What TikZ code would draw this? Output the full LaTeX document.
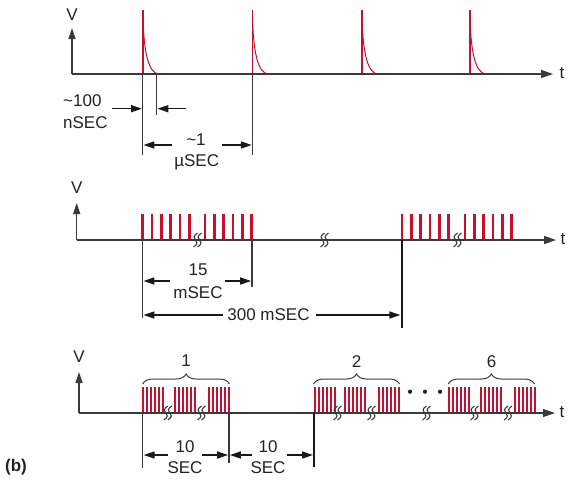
\documentclass[tikz,border=0pt]{standalone}
\usepackage{fontspec}
\setmainfont{Liberation Sans}
\usetikzlibrary{arrows.meta,decorations.pathreplacing}
\definecolor{pulse}{HTML}{C8102E}
\definecolor{ln}{HTML}{3A3A3A}
\definecolor{txt}{HTML}{222222}
\begin{document}
\begin{tikzpicture}[x=1pt,y=-1pt,
  axis/.style={draw=ln, line width=1.3pt, -{Triangle[length=12pt,width=8pt]}},
  vaxis/.style={draw=ln, line width=1.3pt, -{Triangle[length=11pt,width=7pt]}},
  dim/.style={draw=black!90, line width=1.5pt, -{Triangle[length=11pt,width=7pt]}},
  ext/.style={draw=ln, line width=1.1pt},
  bar/.style={draw=black!90, line width=2pt},
  lbl/.style={font=\fontsize{17}{19}\selectfont, text=txt, inner sep=0pt},
  grp/.style={draw=ln, line width=1pt, decorate, decoration={brace, amplitude=10pt}},
  brk/.pic={\foreach \d in {0,4}{\draw[ln, line width=1.1pt] (\d+2,-7) .. controls (\d-2.4,-4.5) and (\d-2.2,-1.2) .. (\d,0) .. controls (\d+2.2,1.2) and (\d+2.4,4.5) .. (\d-2,7);}}
]
\useasboundingbox (0,0) rectangle (567,480);

% ---------------- panel 1 ----------------
\coordinate (o1) at (72,74);
\coordinate (e1) at (553,74);
\coordinate (v1) at (72,28);
\foreach \x in {143,252.5,362,470}{
  \fill[pulse] (\x-0.7,74) rectangle (\x+0.7,10);
  \draw[pulse, line width=1pt] (\x,18) .. controls (\x+1,55) and (\x+6,72) .. (\x+15,74);
}
\draw[axis] (o1) -- (e1);
\draw[vaxis] (o1) -- (v1);
\node[lbl] (V1) at (72,15) {V};
\node[lbl] (t1) at (562,73) {t};

\coordinate (a1) at (142.7,74);  \coordinate (a1b) at (142.7,155);
\coordinate (a2) at (156.7,74);  \coordinate (a2b) at (156.7,115);
\coordinate (a3) at (252.5,74);  \coordinate (a3b) at (252.5,155);
\draw[ext] (a1) -- (a1b);
\draw[ext] (a2) -- (a2b);
\draw[ext] (a3) -- (a3b);
\coordinate (d1s) at (111.7,108.7); \coordinate (d1e) at (142,108.7);
\coordinate (d2s) at (186,108.7);   \coordinate (d2e) at (157.4,108.7);
\draw[dim] (d1s) -- (d1e);
\draw[dim] (d2s) -- (d2e);
\node[lbl, anchor=west] (n100) at (63,101) {\textasciitilde100};
\node[lbl, anchor=west] (nsec) at (63,122.7) {nSEC};
\coordinate (d3s) at (171.7,145); \coordinate (d3e) at (143.4,145);
\coordinate (d4s) at (221.7,145); \coordinate (d4e) at (251.8,145);
\draw[dim] (d3s) -- (d3e);
\draw[dim] (d4s) -- (d4e);
\node[lbl] (n1) at (196,140) {\textasciitilde1};
\node[lbl] (usec) at (196.7,162.7) {µSEC};

% ---------------- panel 2 ----------------
\coordinate (o2) at (76.7,240);
\coordinate (e2) at (556,240);
\coordinate (v2) at (76.7,203);
\foreach \s in {142.5,205,402,465}{
  \foreach \i in {0,...,5}{
    \fill[pulse] (\s+9.35*\i-1.3,240) rectangle (\s+9.35*\i+1.3,214);
  }
}
\draw[axis] (o2) -- (e2);
\draw[vaxis] (o2) -- (v2);
\foreach \x in {195.5,322.5,455.5}{ \pic at (\x,240) {brk}; }
\node[lbl] (V2) at (76.7,188) {V};
\node[lbl] (t2) at (563,239) {t};

\coordinate (b1) at (142.5,240); \coordinate (b1b) at (142.5,318);
\coordinate (b2) at (252,240);   \coordinate (b2b) at (252,287);
\coordinate (b3) at (401.5,240); \coordinate (b3b) at (401.5,328);
\draw[ext] (b1) -- (b1b);
\draw[ext] (b2) -- (b2b);
\draw[bar] (b3) -- (b3b);
\node[lbl] (n15) at (198,270) {15};
\node[lbl] (msec) at (198,292.7) {mSEC};
\coordinate (f1s) at (170,281); \coordinate (f1e) at (143.4,281);
\coordinate (f2s) at (225,281); \coordinate (f2e) at (251.2,281);
\draw[dim] (f1s) -- (f1e);
\draw[dim] (f2s) -- (f2e);
\node[lbl] (n300) at (268.5,315) {300 mSEC};
\coordinate (g1s) at (223,315); \coordinate (g1e) at (143.4,315);
\coordinate (g2s) at (316,315); \coordinate (g2e) at (400.4,315);
\draw[dim] (g1s) -- (g1e);
\draw[dim] (g2s) -- (g2e);

% ---------------- panel 3 ----------------
\coordinate (o3) at (79,413);
\coordinate (e3) at (555,413);
\coordinate (v3) at (79,372);
\foreach \s in {142,174,208,314,344,378,448,480,514}{
  \foreach \i in {0,...,5}{
    \fill[pulse] (\s+4*\i,413) rectangle (\s+4*\i+2,387);
  }
}
\draw[axis] (o3) -- (e3);
\draw[vaxis] (o3) -- (v3);
\foreach \x in {165.8,199.5,335.5,369.5,424.5,472.5,506}{ \pic at (\x,413) {brk}; }
\node[lbl] (V3) at (79,357) {V};
\node[lbl] (t3) at (562,412) {t};

\foreach \n/\xx in {0/410,1/425,2/440}{ \fill[txt] (\xx,391.7) circle (2.1pt); }

\coordinate (br1a) at (142.7,384); \coordinate (br1b) at (229.5,384);
\coordinate (br2a) at (313.5,384); \coordinate (br2b) at (399.5,384);
\coordinate (br6a) at (448.3,384); \coordinate (br6b) at (534.5,384);
\draw[grp] (br1a) -- (br1b);
\draw[grp] (br2a) -- (br2b);
\draw[grp] (br6a) -- (br6b);
\node[lbl] (g1) at (186,361) {1};
\node[lbl] (g2) at (356.5,361.7) {2};
\node[lbl] (g6) at (491.5,361.7) {6};

\coordinate (c1) at (142.7,413); \coordinate (c1b) at (142.7,468);
\coordinate (c2) at (229,413); \coordinate (c2b) at (229,463);
\coordinate (c3) at (314,413);   \coordinate (c3b) at (314,467);
\draw[ext] (c1) -- (c1b);
\draw[ext] (c2) -- (c2b);
\draw[bar] (c3) -- (c3b);
\node[lbl] (n10a) at (185,446.7) {10};
\node[lbl] (seca) at (185,468) {SEC};
\node[lbl] (n10b) at (268,446.7) {10};
\node[lbl] (secb) at (268,468) {SEC};
\coordinate (h1s) at (168,455); \coordinate (h1e) at (143.6,455);
\coordinate (h2s) at (202,455); \coordinate (h2e) at (228.2,455);
\coordinate (h3s) at (252,455); \coordinate (h3e) at (229.8,455);
\coordinate (h4s) at (287,455); \coordinate (h4e) at (313,455);
\draw[dim] (h1s) -- (h1e);
\draw[dim] (h2s) -- (h2e);
\draw[dim] (h3s) -- (h3e);
\draw[dim] (h4s) -- (h4e);

\node[lbl, font=\fontsize{17}{19}\selectfont\bfseries] (b) at (16,466.7) {(b)};
\end{tikzpicture}
\end{document}
